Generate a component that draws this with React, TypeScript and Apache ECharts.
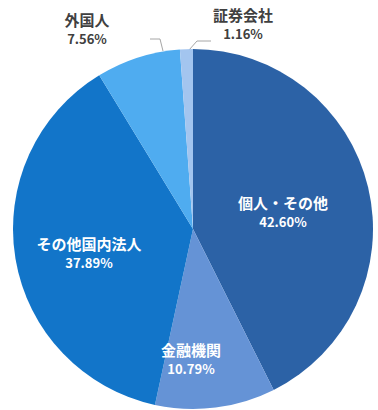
import React, { useEffect, useRef } from "react";
import * as echarts from "echarts";

const categories = ["個人・その他", "金融機関", "その他国内法人", "外国人", "証券会社"];
const values = [42.6, 10.79, 37.89, 7.56, 1.16];
const colors = ["#2C62A6", "#6593D6", "#1275C9", "#4FACF0", "#A3C5EF"];

// label centres (and leader lines for outside labels)
const labelPos: Record<number, { x: number; y: number; line?: number[][] }> = {
  0: { x: 283, y: 211 },
  1: { x: 191, y: 358 },
  2: { x: 89, y: 252 },
  3: { x: 87, y: 28, line: [[163, 51], [160, 39], [150, 39]] },
  4: { x: 243, y: 23, line: [[189, 50], [197, 41], [211, 41]] },
};

export default function App() {
  const ref = useRef<HTMLDivElement>(null);
  useEffect(() => {
    const chart = echarts.init(ref.current!, null, { renderer: "svg" });
    const font = '"Noto Sans CJK JP", "Noto Sans", sans-serif';
    chart.setOption({
      animation: false,
      backgroundColor: "#ffffff",
      series: [
        {
          type: "pie",
          center: [193, 229],
          radius: 180,
          startAngle: 90,
          clockwise: true,
          silent: true,
          data: categories.map((name, i) => {
            const outside = i >= 3;
            const c = outside ? "#404040" : "#ffffff";
            return {
              name,
              value: values[i],
              itemStyle: { color: colors[i] },
              label: {
                show: true,
                position: outside ? "outside" : "inside",
                formatter: (p: any) => `{n|${p.name}}\n{v|${p.value.toFixed(2)}%}`,
                rich: {
                  n: { fontFamily: font, fontWeight: "bold", fontSize: 15, color: c, lineHeight: 20, align: "center" },
                  v: { fontFamily: font, fontWeight: "bold", fontSize: 13, color: c, lineHeight: 17, align: "center" },
                },
              },
              labelLine: outside
                ? { show: true, length: 8, length2: 10, lineStyle: { color: "#A6A6A6", width: 1 } }
                : { show: false },
            };
          }),
          labelLayout: (params: any) => {
            const p = labelPos[params.dataIndex];
            const out: any = { x: p.x, y: p.y, align: "center", verticalAlign: "middle" };
            if (p.line) out.labelLinePoints = p.line;
            return out;
          },
        },
      ],
    });
    return () => chart.dispose();
  }, []);
  return (
    <div
      ref={ref}
      style={{ position: "fixed", left: 0, top: 0, width: 378, height: 410 }}
    />
  );
}
